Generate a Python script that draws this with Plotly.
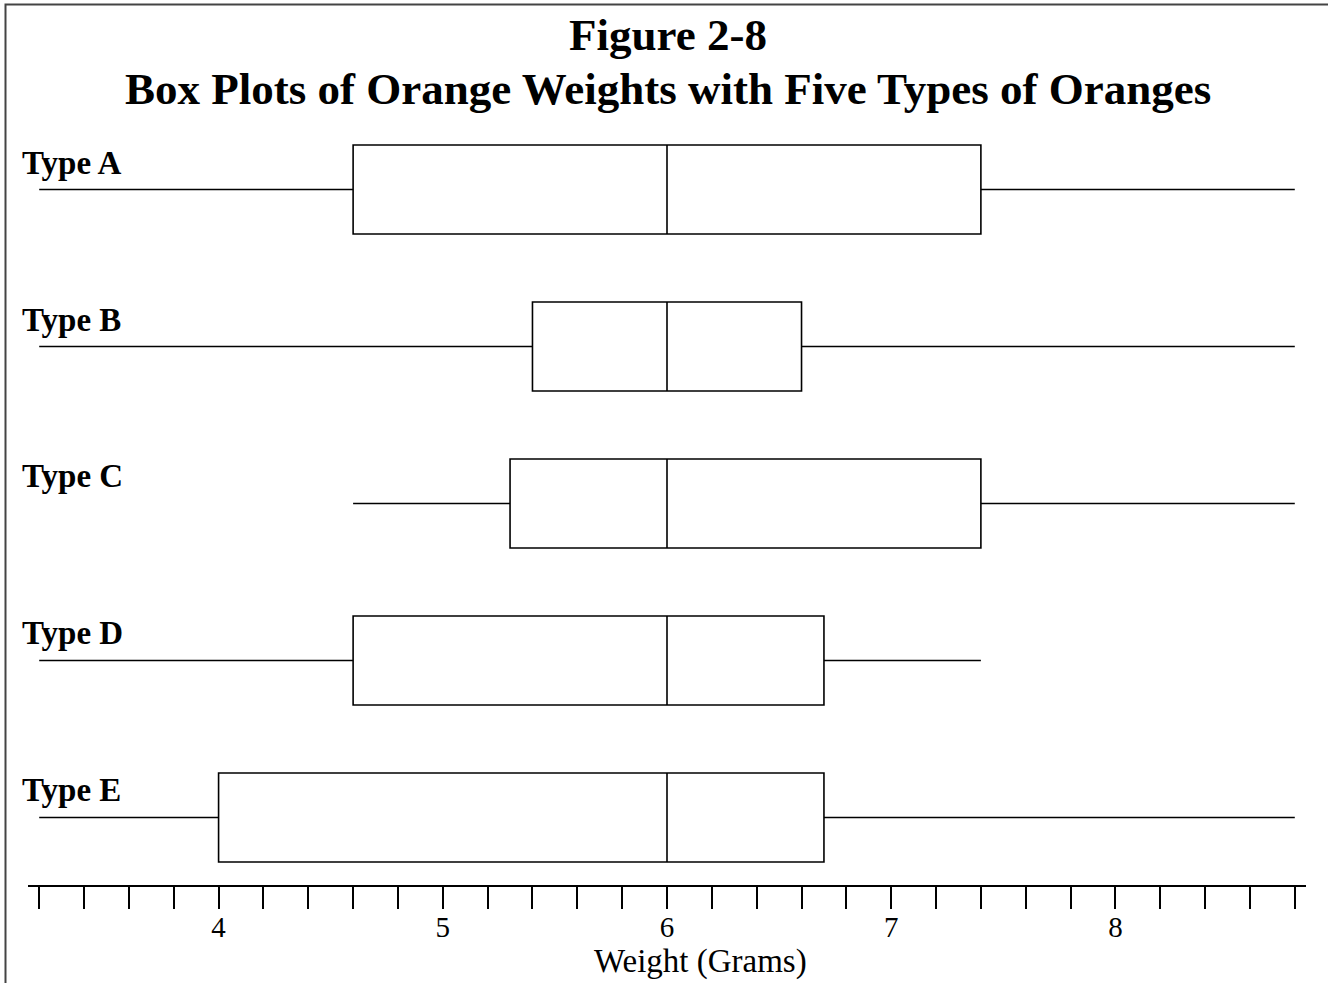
import plotly.graph_objects as go

categories = ["Type A", "Type B", "Type C", "Type D", "Type E"]
lower_whisker = [3.2, 3.2, 4.6, 3.2, 3.2]
q1_values = [4.6, 5.4, 5.3, 4.6, 4.0]
median_values = [6.0, 6.0, 6.0, 6.0, 6.0]
q3_values = [7.4, 6.6, 7.4, 6.7, 6.7]
upper_whisker = [8.8, 8.8, 8.8, 7.4, 8.8]
tick_values = [4, 5, 6, 7, 8]

SERIF = "Liberation Serif, Times New Roman, serif"

fig = go.Figure()
fig.add_trace(go.Box(
    y=categories,
    q1=q1_values,
    median=median_values,
    q3=q3_values,
    lowerfence=lower_whisker,
    upperfence=upper_whisker,
    orientation="h",
    width=0.567,
    whiskerwidth=0,
    fillcolor="white",
    line=dict(color="black", width=1.6),
    boxpoints=False,
    showlegend=False,
    hoverinfo="skip",
))

W, H = 1328, 983
L, R, T, B = 28, 22, 111, 98
pw, ph = W - L - R, H - T - B

def px_x(p):
    return (p - L) / pw

def px_y(p):
    return (H - B - p) / ph

annotations = []
for cat in categories:
    annotations.append(dict(
        x=px_x(20), xref="paper", y=cat, yref="y", yshift=27,
        text="<b>%s</b>" % cat, showarrow=False, xanchor="left", yanchor="middle",
        font=dict(family=SERIF, size=33, color="black"),
    ))
annotations.append(dict(
    x=px_x(668), xref="paper", y=px_y(35), yref="paper",
    text="<b>Figure 2-8</b>", showarrow=False, xanchor="center", yanchor="middle",
    font=dict(family=SERIF, size=45, color="black"),
))
annotations.append(dict(
    x=px_x(668), xref="paper", y=px_y(89), yref="paper",
    text="<b>Box Plots of Orange Weights with Five Types of Oranges</b>", showarrow=False,
    xanchor="center", yanchor="middle",
    font=dict(family=SERIF, size=45, color="black"),
))
annotations.append(dict(
    x=px_x(700), xref="paper", y=px_y(961), yref="paper",
    text="Weight (Grams)", showarrow=False, xanchor="center", yanchor="middle",
    font=dict(family=SERIF, size=33, color="black"),
))

fig.update_layout(
    width=W, height=H,
    margin=dict(l=L, r=R, t=T, b=B),
    paper_bgcolor="white", plot_bgcolor="white",
    boxmode="overlay",
    annotations=annotations,
    shapes=[dict(type="rect", xref="paper", yref="paper",
                 x0=px_x(5.5), x1=px_x(1340), y0=px_y(4.5), y1=px_y(1000),
                 line=dict(color="#444", width=2), fillcolor="rgba(0,0,0,0)", layer="below")],
    xaxis=dict(
        range=[3.15, 8.85], tickvals=tick_values, ticktext=[str(v) for v in tick_values],
        ticks="outside", ticklen=22, tickwidth=1.6, tickcolor="black",
        showline=True, linecolor="black", linewidth=1.6,
        showgrid=False, zeroline=False,
        tickfont=dict(family=SERIF, size=29, color="black"),
        ticklabelstandoff=-7,
        minor=dict(dtick=0.2, tick0=3.2, ticks="outside", ticklen=22, tickwidth=1.6,
                   tickcolor="black", showgrid=False),
    ),
    yaxis=dict(
        categoryorder="array", categoryarray=categories,
        range=[4.43, -0.5], showticklabels=False, showgrid=False,
        zeroline=False, showline=False, ticks="",
    ),
)

fig.write_html("out.html", config={"displayModeBar": False},
               post_script="document.body.style.margin='0';document.body.style.overflow='hidden';")
